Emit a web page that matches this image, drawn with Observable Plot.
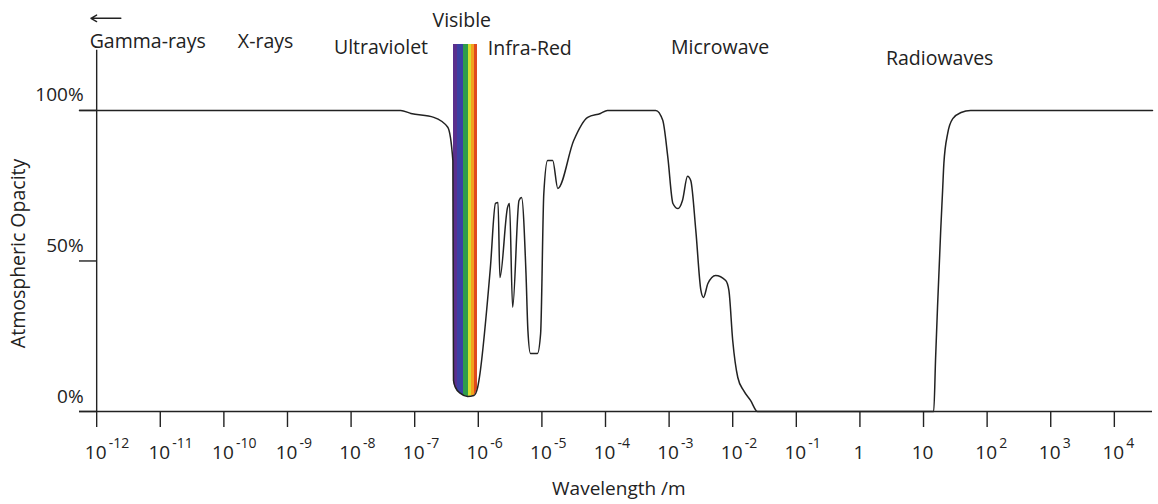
<!DOCTYPE html>
<html><head><meta charset="utf-8">
<script src="https://cdn.jsdelivr.net/npm/d3@7"></script>
<script src="https://cdn.jsdelivr.net/npm/@observablehq/plot@0.6"></script>
<style>body{margin:0;background:#fff} svg{display:block}</style>
</head><body><div id="chart"></div>
<script>
// log10 of wavelength (m) and atmospheric opacity (%)
const logWavelength = [-12.27, -7.22, -7.06, -6.70, -6.48, -6.40, -6.39, -6.36, -6.28, -6.17, -6.07, -6.01, -5.99,
  -5.81, -5.73, -5.69, -5.66, -5.54, -5.51, -5.46, -5.36, -5.32, -5.25, -5.22, -5.18, -5.07, -5.02, -4.97, -4.91,
  -4.83, -4.75, -4.50, -4.28, -4.08, -3.97, -3.21, -3.10, -3.02, -2.94, -2.86, -2.79, -2.71, -2.66, -2.58, -2.50,
  -2.46, -2.39, -2.27, -2.11, -2.06, -2.00, -1.92, -1.83, -1.72, -1.61, 1.16, 1.19, 1.22, 1.27, 1.30, 1.32, 1.38,
  1.46, 1.59, 1.74, 4.60];
const opacity = [100, 100, 99.0, 97.7, 94.4, 83.4, 10.3, 8.0, 6.0, 5.0, 5.3, 8.0, 10.3,
  47.8, 69.1, 69.4, 44.5, 67.8, 69.1, 34.6, 70.1, 71.1, 45.8, 26.9, 19.3, 19.3, 25.9, 72.4, 83.4,
  83.4, 74.1, 90.0, 97.7, 99.0, 100, 100, 96.7, 84.4, 69.1, 67.4, 70.1, 78.1, 76.7, 60.1, 40.2,
  37.9, 42.5, 45.2, 43.5, 40.2, 23.6, 11.3, 7.0, 3.7, 0, 0, 17.9, 34.6, 60.1, 73.4, 82.4, 92.4,
  97.3, 99.3, 100, 100];

const decades = [-12, -11, -10, -9, -8, -7, -6, -5, -4, -3, -2, -1, 0, 1, 2, 3, 4];
const decadeBase = ["10","10","10","10","10","10","10","10","10","10","10","10","1","10","10","10","10"];
const decadeExponent = ["-12","-11","-10","-9","-8","-7","-6","-5","-4","-3","-2","-1","","","2","3","4"];

const yTicks = [0, 50, 100];
const yTickLabels = ["0%", "50%", "100%"];

const bandNames = ["Gamma-rays", "X-rays", "Ultraviolet", "Visible", "Infra-Red", "Microwave", "Radiowaves"];
const bandLabelX = [-12.11, -9.78, -8.27, -6.72, -5.85, -2.97, 0.41];
const bandLabelY = [120.9, 120.9, 118.9, 127.6, 118.3, 118.9, 115.0];

const visibleEdges = [-6.395, -6.33, -6.23, -6.16, -6.11, -6.06, -6.01];
const visibleColors = ["#5a2f8e", "#3b40a3", "#2f9d4a", "#d4df2e", "#f3a01d", "#df4a1e"];
const visibleTop = 121.9;

const arrowFrom = -11.62, arrowTo = -12.09, arrowY = 130.6;

const curve = logWavelength.map((x, i) => ({x, y: opacity[i]}));
const stripes = visibleColors.map((c, i) => ({x1: visibleEdges[i], x2: visibleEdges[i + 1], fill: c}));
const labels = bandNames.map((name, i) => ({name, x: bandLabelX[i], y: bandLabelY[i]}));
const ticks = decades.map((d, i) => ({d, base: decadeBase[i], exp: decadeExponent[i]}));
const yLabels = yTicks.map((v, i) => ({v, label: yTickLabels[i]}));

const font = "'Open Sans', sans-serif";
const ink = "#222";

const chart = Plot.plot({
  width: 1158, height: 504,
  marginLeft: 79, marginRight: 6, marginTop: 44, marginBottom: 93,
  x: {domain: [-12.27, 4.60]},
  y: {domain: [0, 121.9], axis: null},
  style: {fontFamily: font, color: ink, background: "#fff", overflow: "visible"},
  marks: [
    Plot.rect(stripes, {x1: "x1", x2: "x2", y1: 0, y2: visibleTop, fill: "fill", shapeRendering: "crispEdges"}),
    Plot.areaY(curve, {x: "x", y: "y", fill: "#fff", curve: "monotone-x"}),
    Plot.ruleY([0], {stroke: ink, strokeWidth: 1.4}),
    Plot.ruleX([-12], {y1: 0, y2: 120, stroke: ink, strokeWidth: 1.4}),
    Plot.axisX(decades, {tickSize: 16, tickFormat: () => "", label: null, stroke: ink, strokeWidth: 1.4}),
    Plot.ruleY(yTicks, {x1: -12.27, x2: -12, stroke: ink, strokeWidth: 1.4}),
    Plot.text(yLabels, {x: -12, y: "v", text: "label", dx: -13, dy: -9, textAnchor: "end", lineAnchor: "bottom", fontSize: 19, fill: ink}),
    Plot.lineY(curve, {x: "x", y: "y", stroke: ink, strokeWidth: 1.5, curve: "monotone-x"}),
    Plot.text(ticks, {x: "d", y: 0, text: "base", dy: 47, dx: -1, lineAnchor: "bottom", fontSize: 19, fill: ink}),
    Plot.text(ticks, {x: "d", y: 0, text: "exp", dy: 36, dx: 12, textAnchor: "start", lineAnchor: "bottom", fontSize: 14, fill: ink}),
    Plot.text(labels, {x: "x", y: "y", text: "name", textAnchor: "start", lineAnchor: "bottom", fontSize: 19.5, fill: ink}),
    Plot.arrow([{x1: arrowFrom, x2: arrowTo, y: arrowY}], {x1: "x1", x2: "x2", y1: "y", y2: "y", stroke: ink, strokeWidth: 1.4, headLength: 7}),
    Plot.text(["Wavelength /m"], {x: -3.79, y: 0, dy: 83, text: (d) => d, lineAnchor: "bottom", fontSize: 19, fill: ink}),
    Plot.text(["Atmospheric Opacity"], {x: -13.23, y: 52.5, text: (d) => d, rotate: -90, fontSize: 19.5, fill: ink})
  ]
});
document.getElementById("chart").appendChild(chart);
</script>
</body></html>
